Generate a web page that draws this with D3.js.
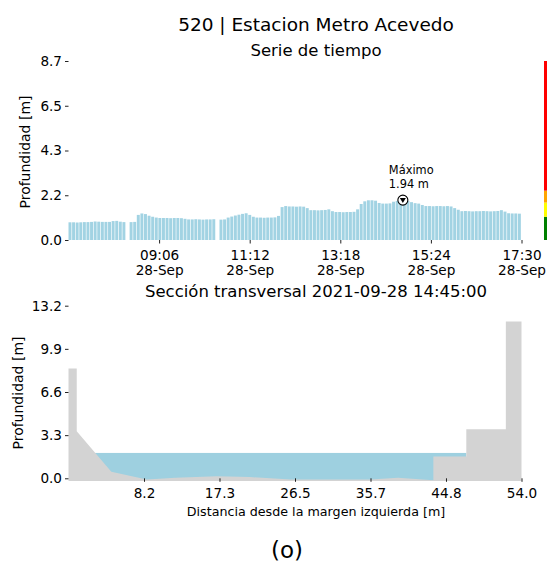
<!DOCTYPE html>
<html><head><meta charset="utf-8">
<script src="https://cdn.jsdelivr.net/npm/d3@7"></script>
<style>
body{margin:0;background:#fff}
svg{display:block}
text{font-family:"DejaVu Sans",sans-serif;fill:#000}
</style>
</head><body>
<svg id="c" width="547" height="567"></svg>
<script>
// ---------- data ----------
const stationTitle = "520 | Estacion Metro Acevedo";
const seriesTitle = "Serie de tiempo";
const sectionTitle = "Sección transversal 2021-09-28 14:45:00";
const figureLabel = "(o)";
const yLabel = "Profundidad [m]";
const xLabelSection = "Distancia desde la margen izquierda [m]";

const startTime = "2021-09-28T07:00:00";
const endTime = "2021-09-28T17:30:00";
const stepMinutes = 5;
const depthValues = [
  0.86,0.86,0.85,0.86,0.87,0.87,0.88,
  0.90,0.89,0.88,0.88,0.88,
  0.92,0.93,0.89,0.87,null,0.87,0.88,
  1.22,1.29,1.26,1.18,1.13,
  1.09,1.07,1.07,1.07,1.06,1.07,1.07,1.06,
  1.03,1.00,1.00,1.01,1.00,0.99,1.00,1.00,1.01,null,0.99,1.00,
  1.09,1.14,1.19,1.23,1.27,1.30,1.22,1.13,
  1.09,1.09,1.08,1.09,1.09,1.10,1.17,
  1.60,1.65,1.63,1.63,1.62,1.63,1.62,1.55,
  1.45,1.45,1.44,1.45,1.46,1.49,1.40,
  1.36,1.36,1.35,1.36,1.36,1.37,1.49,
  1.75,1.88,1.93,1.93,1.91,1.80,1.77,1.77,1.78,1.86,1.90,1.92,1.94,
  1.90,1.84,1.79,1.77,1.70,1.65,1.65,1.64,1.65,1.65,1.64,1.65,1.63,1.55,1.47,
  1.40,1.41,1.40,1.39,1.40,1.40,1.41,1.40,1.39,1.40,1.41,
  1.45,1.38,1.30,1.29,1.29,1.28
];
const maxTime = "2021-09-28T14:45:00";
const maxValue = 1.94;
const maxLabel = ["Máximo", "1.94 m"];

const timeTicks = ["2021-09-28T09:06:00","2021-09-28T11:12:00","2021-09-28T13:18:00","2021-09-28T15:24:00","2021-09-28T17:30:00"];
const timeTickLabels = [["09:06","28-Sep"],["11:12","28-Sep"],["13:18","28-Sep"],["15:24","28-Sep"],["17:30","28-Sep"]];
const yTicksTop = [0, 2.175, 4.35, 6.525, 8.7];
const yTickLabelsTop = ["0.0","2.2","4.3","6.5","8.7"];

const alertLevels = [0, 1.13, 1.82, 2.4, 8.7];
const alertColors = ["#008000","#ffff00","#ffa500","#ff0000"];

// cross section: distance [m], elevation [m]
const sectionX = [-1, 0, 0, 4.2, 8.5, 12, 17, 21, 26, 35.7, 39, 43.3, 43.3, 47.3, 47.3, 52.1, 52.1, 54, 54];
const sectionZ = [8.4, 8.4, 3.6, 0.5, -0.1, 0.05, 0.15, 0.1, -0.1, -0.1, 0.05, -0.15, 1.66, 1.66, 3.76, 3.76, 12.0, 12.0, -0.2];
const sectionFloor = -0.2;
const waterLevel = maxValue;
const waterLeft = 0;
const waterRight = 47.3;
const xDomainSection = [-1, 54];
const xTicksBottom = [8.1667, 17.3333, 26.5, 35.6667, 44.8333, 54.0];
const xTickLabelsBottom = ["8.2","17.3","26.5","35.7","44.8","54.0"];
const yTicksBottom = [0, 3.3, 6.6, 9.9, 13.2];
const yTickLabelsBottom = ["0.0","3.3","6.6","9.9","13.2"];

// ---------- layout ----------
const svg = d3.select("#c");
const left = 68.5, right = 521.5;
const top1 = 61, bot1 = 240;
const top2 = 305.7, bot2 = 478.3;
const tickFont = 13.6;
const barColor = "#a2d3e3";
const waterColor = "#9ed0e0";
const groundColor = "#d3d3d3";

const parse = d3.isoParse;
const t0 = parse(startTime), t1 = parse(endTime);
const x1 = d3.scaleTime().domain([t0, t1]).range([left, right]);
const y1 = d3.scaleLinear().domain([0, 8.7]).range([bot1, top1]);

const x2 = d3.scaleLinear().domain(xDomainSection).range([left, right]);
const y2 = d3.scaleLinear().domain([0, 13.2]).range([bot2, top2]);

// titles
svg.append("text").attr("x", 316).attr("y", 31).attr("text-anchor","middle")
  .style("font-size","18.5px").text(stationTitle);
svg.append("text").attr("x", 316).attr("y", 56).attr("text-anchor","middle")
  .style("font-size","16.5px").text(seriesTitle);
svg.append("text").attr("x", 316).attr("y", 297).attr("text-anchor","middle")
  .style("font-size","16.5px").text(sectionTitle);
svg.append("text").attr("x", 287).attr("y", 558).attr("text-anchor","middle")
  .style("font-size","23px").text(figureLabel);

// ---------- top: time series bars ----------
const barData = depthValues.map((v,i)=>({t: d3.timeMinute.offset(t0, i*stepMinutes), v}))
  .filter(d => d.v !== null);
svg.append("g").selectAll("rect").data(barData).join("rect")
  .attr("x", d => x1(d.t))
  .attr("width", d => (x1(d3.timeMinute.offset(d.t, stepMinutes)) - x1(d.t)) * 0.82)
  .attr("y", d => y1(d.v))
  .attr("height", d => y1(0) - y1(d.v))
  .attr("fill", barColor);

// alert colour bar
svg.append("g").selectAll("rect").data(alertColors).join("rect")
  .attr("x", 544).attr("width", 8)
  .attr("y", (c,i) => y1(alertLevels[i+1]))
  .attr("height", (c,i) => y1(alertLevels[i]) - y1(alertLevels[i+1]))
  .attr("fill", c => c);

// max marker
const mt = parse(maxTime);
const mx = x1(mt), my = y1(maxValue);
svg.append("circle").attr("cx", mx).attr("cy", my).attr("r", 5)
  .attr("fill","#fff").attr("stroke","#000").attr("stroke-width",1.1);
svg.append("path").attr("d", `M${mx-3},${my-2}L${mx+3},${my-2}L${mx},${my+3}Z`).attr("fill","#000");
svg.append("text").attr("x", mx-14).attr("y", my-26).style("font-size","11.4px").text(maxLabel[0]);
svg.append("text").attr("x", mx-14).attr("y", my-12.5).style("font-size","11.4px").text(maxLabel[1]);

// top axes
const gx1 = svg.append("g").attr("transform",`translate(0,${bot1})`)
  .call(d3.axisBottom(x1).tickValues(timeTicks.map(parse)).tickSize(3.5).tickFormat(""));
gx1.select(".domain").remove();
gx1.selectAll(".tick line").attr("stroke","#222");
gx1.selectAll(".tick").each(function(d,i){
  const g = d3.select(this);
  g.select("text").remove();
  g.append("text").attr("y", 19.5).attr("text-anchor","middle").style("font-size",tickFont+"px")
    .attr("fill","#000").text(timeTickLabels[i][0]);
  g.append("text").attr("y", 35).attr("text-anchor","middle").style("font-size",tickFont+"px")
    .attr("fill","#000").text(timeTickLabels[i][1]);
});

const gy1 = svg.append("g").attr("transform",`translate(${left},0)`)
  .call(d3.axisLeft(y1).tickValues(yTicksTop).tickSize(3.5).tickPadding(3)
    .tickFormat((d,i)=>yTickLabelsTop[i]));
gy1.select(".domain").remove();
gy1.selectAll(".tick line").attr("stroke","#222");
gy1.selectAll(".tick text").style("font-size",tickFont+"px").attr("fill","#000")
  .style("font-family","DejaVu Sans");

svg.append("text").attr("transform",`translate(29.5,152) rotate(-90)`).attr("text-anchor","middle")
  .style("font-size","14px").text(yLabel);

// ---------- bottom: cross section ----------
svg.append("rect")
  .attr("x", x2(waterLeft)).attr("width", x2(waterRight) - x2(waterLeft))
  .attr("y", y2(waterLevel)).attr("height", y2(sectionFloor) - y2(waterLevel))
  .attr("fill", waterColor);

const groundPts = sectionX.map((x,i)=>[x, sectionZ[i]]);
groundPts.push([sectionX[0], sectionFloor]);
svg.append("path")
  .attr("d", d3.line().x(d=>x2(d[0])).y(d=>y2(d[1]))(groundPts) + "Z")
  .attr("fill", groundColor);

const gx2 = svg.append("g").attr("transform",`translate(0,${bot2})`)
  .call(d3.axisBottom(x2).tickValues(xTicksBottom).tickSize(3.5).tickPadding(3)
    .tickFormat((d,i)=>xTickLabelsBottom[i]));
gx2.select(".domain").remove();
gx2.selectAll(".tick line").attr("stroke","#222");
gx2.selectAll(".tick text").style("font-size",tickFont+"px").attr("fill","#000")
  .style("font-family","DejaVu Sans").attr("y", 20).attr("dy", null);

const gy2 = svg.append("g").attr("transform",`translate(${left},0)`)
  .call(d3.axisLeft(y2).tickValues(yTicksBottom).tickSize(3.5).tickPadding(3)
    .tickFormat((d,i)=>yTickLabelsBottom[i]));
gy2.select(".domain").remove();
gy2.selectAll(".tick line").attr("stroke","#222");
gy2.selectAll(".tick text").style("font-size",tickFont+"px").attr("fill","#000")
  .style("font-family","DejaVu Sans");

svg.append("text").attr("transform",`translate(22.5,393) rotate(-90)`).attr("text-anchor","middle")
  .style("font-size","14px").text(yLabel);
svg.append("text").attr("x", 316).attr("y", 516).attr("text-anchor","middle")
  .style("font-size","12.7px").text(xLabelSection);
</script>
</body></html>
